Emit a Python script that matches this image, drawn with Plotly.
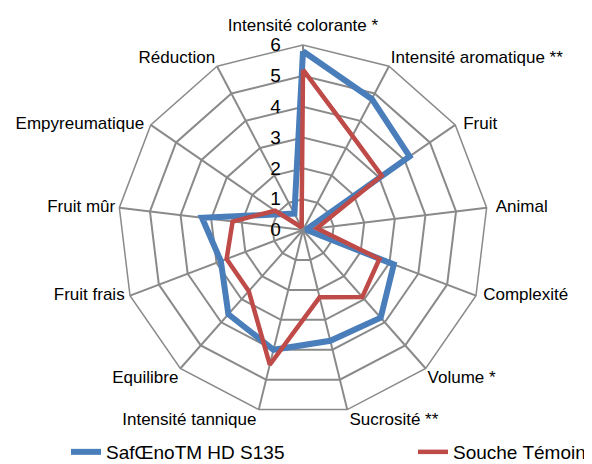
import plotly.graph_objects as go

categories = ["Intensité colorante *", "Intensité aromatique **", "Fruit", "Animal",
              "Complexité", "Volume *", "Sucrosité **", "Intensité tannique",
              "Equilibre", "Fruit frais", "Fruit mûr", "Empyreumatique", "Réduction"]
saf_values = [5.8, 4.8, 4.2, 0.1, 3.15, 3.8, 3.7, 4.0, 3.65, 2.85, 3.3, 0.9, 0.6]
temoin_values = [5.2, 3.45, 3.1, 0.45, 2.65, 2.9, 2.25, 4.5, 2.65, 2.65, 2.3, 1.1, 0.1]
series_names = ["SafŒnoTM HD S135", "Souche Témoin"]
radial_ticks = [0, 1, 2, 3, 4, 5, 6]

# label placement (style only): anchor side, anchor radius and an invisible
# marker size that sets the gap between each category label and its spoke end
label_positions = ["top center", "top right", "middle right", "middle right",
                   "middle right", "bottom right", "bottom right", "bottom left",
                   "bottom left", "middle left", "middle left", "middle left", "top left"]
label_anchor_r = [6, 5.8, 6, 6, 6, 6, 6, 6, 6, 6, 6, 6, 5.8]
label_gap = [14.4, 6, 11, 13, 10, 1.5, 2, 2, 1.5, 7, 5, 9, 6]
R_MAX = radial_ticks[-1]

fig = go.Figure()
fig.add_trace(go.Scatterpolar(
    r=saf_values + saf_values[:1], theta=categories + categories[:1],
    mode="lines", name=series_names[0], legend="legend",
    line=dict(color="#4A7EBB", width=6)))
fig.add_trace(go.Scatterpolar(
    r=temoin_values + temoin_values[:1], theta=categories + categories[:1],
    mode="lines", name=series_names[1], legend="legend2",
    line=dict(color="#BE4B48", width=4.5)))
fig.add_trace(go.Scatterpolar(
    r=label_anchor_r, theta=categories, mode="markers+text", text=categories,
    marker=dict(size=label_gap, color="rgba(0,0,0,0)", line=dict(width=0)),
    textposition=label_positions, textfont=dict(size=17, color="black"),
    cliponaxis=False, showlegend=False, hoverinfo="skip"))

# page body has an 8px margin: figure is drawn at (8, 8)
OFF = 8
W, H = 592 - OFF, 474 - OFF
cx, cy, R = 303 - OFF, 230 - OFF, 185
grid = "#8a8a8a"
leg_common = dict(orientation="h", yanchor="middle", xanchor="left",
                  font=dict(size=19, color="black"), bgcolor="rgba(0,0,0,0)")
fig.update_layout(
    width=W, height=H,
    margin=dict(l=0, r=0, t=0, b=0),
    paper_bgcolor="white", plot_bgcolor="white",
    font=dict(family="Liberation Sans, Arial, sans-serif", color="black", size=17),
    polar=dict(
        domain=dict(x=[(cx - R) / W, (cx + R) / W], y=[(H - cy - R) / H, (H - cy + R) / H]),
        bgcolor="white",
        gridshape="linear",
        angularaxis=dict(
            rotation=90, direction="clockwise",
            showline=True, linecolor=grid, linewidth=1.5,
            gridcolor=grid, gridwidth=1.5,
            ticks="", showticklabels=False),
        radialaxis=dict(
            range=[0, R_MAX], tickvals=radial_ticks, angle=90,
            showline=False, ticks="outside", ticklen=15, tickcolor="rgba(0,0,0,0)",
            gridcolor=grid, gridwidth=1.5,
            tickfont=dict(size=19, color="black"),
            tickangle=90, side="counterclockwise")),
    showlegend=True,
    legend=dict(x=(66 - OFF) / W, y=1 - (452 - OFF) / H, **leg_common),
    legend2=dict(x=(413 - OFF) / W, y=1 - (452 - OFF) / H, **leg_common),
)

fig.write_html("out.html")
